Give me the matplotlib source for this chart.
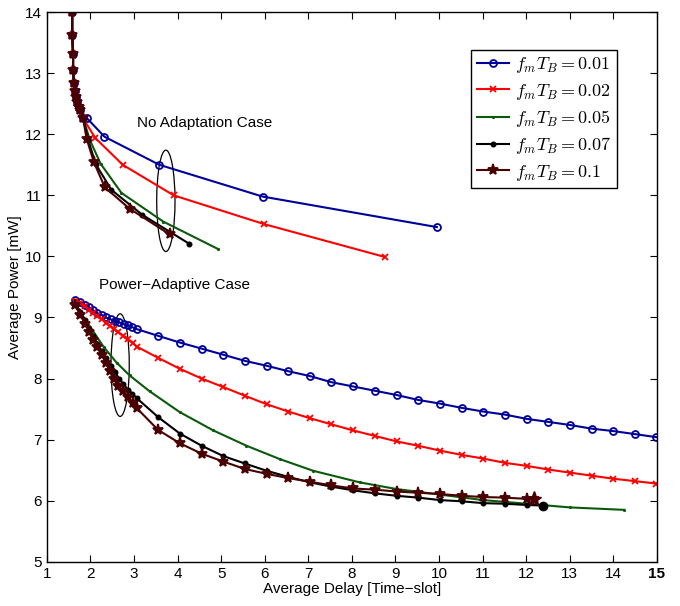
import matplotlib.pyplot as plt
from matplotlib.patches import Ellipse

plt.rcParams['font.family'] = ['Liberation Sans', 'DejaVu Sans']
plt.rcParams['mathtext.fontset'] = 'cm'

labels = [r'$f_mT_B = 0.01$', r'$f_mT_B = 0.02$', r'$f_mT_B = 0.05$',
          r'$f_mT_B = 0.07$', r'$f_mT_B = 0.1$']

# shared steep start of the no-adaptation curves
top_x = [1.58, 1.58, 1.60, 1.60, 1.62, 1.64, 1.66, 1.69, 1.73, 1.77, 1.83]
top_y = [14.0, 13.63, 13.32, 13.05, 12.84, 12.71, 12.61, 12.53, 12.45, 12.40, 12.26]

# no adaptation: tails after the shared part
na_x = [
    [1.91, 2.32, 3.58, 5.95, 9.95],
    [2.11, 2.74, 3.91, 5.98, 8.76],
    [1.99, 2.23, 2.71, 3.67, 4.93],
    [1.95, 2.12, 2.48, 3.19, 4.26],
    [1.91, 2.08, 2.33, 2.90, 3.82],
]
na_y = [
    [12.27, 11.96, 11.50, 10.98, 10.48],
    [11.94, 11.50, 11.00, 10.53, 9.99],
    [11.90, 11.52, 11.04, 10.57, 10.12],
    [11.90, 11.51, 11.09, 10.68, 10.21],
    [11.93, 11.54, 11.13, 10.78, 10.36],
]

# power-adaptive case
pa_blue_x = [1.64, 1.76, 1.87, 1.96, 2.06, 2.16, 2.26, 2.35, 2.46, 2.56, 2.66, 2.76, 2.86,
             2.96, 3.06, 3.55, 4.05, 4.55, 5.05, 5.54, 6.04, 6.54, 7.04, 7.53, 8.03, 8.53,
             9.03, 9.52, 10.02, 10.52, 11.01, 11.51, 12.01, 12.51, 13.00, 13.50, 14.00,
             14.50, 14.99]
pa_blue_y = [9.29, 9.25, 9.21, 9.17, 9.12, 9.07, 9.04, 9.00, 8.97, 8.94, 8.92, 8.89, 8.87,
             8.84, 8.81, 8.70, 8.59, 8.49, 8.39, 8.29, 8.21, 8.12, 8.04, 7.94, 7.87, 7.80,
             7.73, 7.65, 7.59, 7.52, 7.46, 7.41, 7.34, 7.29, 7.24, 7.18, 7.14, 7.09, 7.04]

pa_red_x = [1.65, 1.76, 1.87, 1.97, 2.06, 2.15, 2.26, 2.35, 2.45, 2.54, 2.64, 2.75, 2.85,
            2.97, 3.07, 3.55, 4.05, 4.55, 5.05, 5.54, 6.04, 6.54, 7.04, 7.53, 8.03, 8.53,
            9.03, 9.52, 10.02, 10.52, 11.01, 11.51, 12.01, 12.51, 13.00, 13.50, 14.00,
            14.50, 14.99]
pa_red_y = [9.27, 9.23, 9.18, 9.12, 9.08, 9.02, 8.97, 8.91, 8.86, 8.81, 8.76, 8.70, 8.64,
            8.58, 8.52, 8.34, 8.16, 8.00, 7.86, 7.72, 7.58, 7.46, 7.35, 7.25, 7.15, 7.06,
            6.97, 6.90, 6.82, 6.75, 6.69, 6.62, 6.57, 6.51, 6.46, 6.41, 6.36, 6.32, 6.28]

pa_green_x = [1.65, 1.80, 2.00, 2.30, 2.60, 2.90, 3.36, 4.05, 4.82, 5.58, 6.35, 7.11,
              8.18, 9.03, 10.02, 11.01, 12.01, 13.00, 14.25]
pa_green_y = [9.24, 9.05, 8.84, 8.52, 8.26, 8.05, 7.79, 7.45, 7.15, 6.90, 6.68, 6.49,
              6.30, 6.19, 6.10, 6.01, 5.95, 5.89, 5.85]

pa_black_x = [1.66, 1.77, 1.87, 1.97, 2.06, 2.15, 2.26, 2.35, 2.46, 2.56, 2.66, 2.75, 2.86,
              2.96, 3.06, 3.55, 4.05, 4.55, 5.05, 5.54, 6.04, 6.54, 7.04, 7.53, 8.03, 8.53,
              9.03, 9.52, 10.02, 10.52, 11.01, 11.51, 12.01, 12.39]
pa_black_y = [9.21, 9.09, 8.96, 8.81, 8.69, 8.57, 8.45, 8.33, 8.21, 8.10, 8.00, 7.91, 7.82,
              7.75, 7.68, 7.37, 7.10, 6.90, 6.73, 6.61, 6.49, 6.39, 6.30, 6.23, 6.17, 6.12,
              6.08, 6.05, 6.01, 5.99, 5.96, 5.95, 5.93, 5.92]

pa_star_x = [1.64, 1.77, 1.87, 1.97, 2.06, 2.15, 2.26, 2.35, 2.45, 2.54, 2.64, 2.75, 2.85,
             2.97, 3.07, 3.55, 4.05, 4.55, 5.05, 5.54, 6.04, 6.54, 7.04, 7.53, 8.03, 8.53,
             9.03, 9.52, 10.02, 10.52, 11.01, 11.51, 12.01, 12.18]
pa_star_y = [9.20, 9.04, 8.90, 8.77, 8.63, 8.51, 8.39, 8.25, 8.12, 8.00, 7.88, 7.79, 7.69,
             7.60, 7.51, 7.16, 6.94, 6.77, 6.64, 6.52, 6.44, 6.37, 6.31, 6.25, 6.20, 6.18,
             6.15, 6.13, 6.11, 6.08, 6.06, 6.05, 6.03, 6.03]

pa_x = [pa_blue_x, pa_red_x, pa_green_x, pa_black_x, pa_star_x]
pa_y = [pa_blue_y, pa_red_y, pa_green_y, pa_black_y, pa_star_y]

colors = ['#000099', '#ff0000', '#0b5a0b', '#000000', '#4a0000']
markers = ['o', 'x', '.', '.', '*']
msizes = [5, 4, 2, 6, 8]
mfaces = ['none', '#ff0000', '#0b5a0b', '#000000', '#4a0000']

fig = plt.figure(figsize=(6.8, 6.06), dpi=100)
ax = fig.add_axes([0.069, 0.073, 0.897, 0.907])

for i in range(5):
    kw = dict(color=colors[i], marker=markers[i], markersize=msizes[i],
              markerfacecolor=mfaces[i], markeredgewidth=1.3, linewidth=1.5)
    ax.plot(top_x + na_x[i], top_y + na_y[i], **kw)
    ax.plot(pa_x[i], pa_y[i], label=labels[i], **kw)

# bigger end markers on the last two power-adaptive curves
ax.plot(pa_black_x[-1], pa_black_y[-1], 'o', color='#000000', markersize=6)
ax.plot(pa_star_x[-1], pa_star_y[-1], '*', color='#4a0000', markersize=11)

ax.add_patch(Ellipse((3.73, 10.91), 0.42, 1.66, fill=False, edgecolor='black', linewidth=0.9))
ax.add_patch(Ellipse((2.68, 8.22), 0.42, 1.68, fill=False, edgecolor='black', linewidth=0.9))

ax.text(4.63, 12.18, 'No Adaptation Case', fontsize=11, ha='center', va='center')
ax.text(3.93, 9.53, 'Power\u2212Adaptive Case', fontsize=11, ha='center', va='center')

ax.set_xlim(1, 15)
ax.set_ylim(5, 14)
ax.set_xticks(range(1, 16))
ax.set_yticks(range(5, 15))
ax.tick_params(direction='in', top=True, right=True, labelsize=11, length=5)
for lab in ax.get_xticklabels():
    if lab.get_text() == '15':
        lab.set_fontweight('bold')
ax.set_xlabel('Average Delay [Time\u2212slot]', fontsize=11, labelpad=1)
ax.set_ylabel('Average Power [mW]', fontsize=11, labelpad=2)
for sp in ax.spines.values():
    sp.set_linewidth(1.0)

leg = ax.legend(loc='upper right', bbox_to_anchor=(0.934, 0.931), fontsize=13,
                fancybox=False, edgecolor='black', framealpha=1, borderpad=0.3,
                handlelength=1.8, handletextpad=0.3, labelspacing=0.35, borderaxespad=0)
leg.get_frame().set_linewidth(1.0)

fig.savefig('out.png', dpi=100)
